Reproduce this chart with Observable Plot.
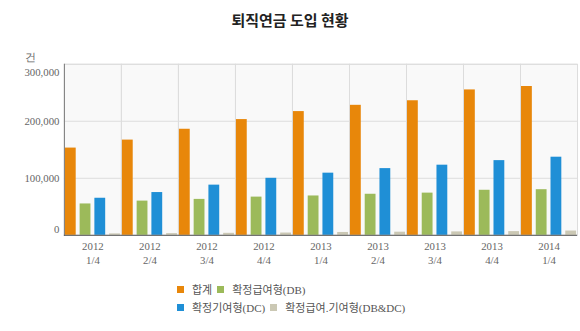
<!DOCTYPE html>
<html>
<head>
<meta charset="utf-8">
<script src="https://cdn.jsdelivr.net/npm/d3@7"></script>
<script src="https://cdn.jsdelivr.net/npm/@observablehq/plot@0.6"></script>
<style>
  html, body { margin: 0; padding: 0; background: #fff; overflow: hidden; width: 580px; height: 331px; }
  #title { width: 580px; height: 50px; box-sizing: border-box; padding-top: 9px; text-align: center;
    font-family: "Noto Sans CJK KR", sans-serif; font-weight: bold; font-size: 15px; color: #222; }
  #legend { margin-left: 177px; margin-top: 10px; font-family: "Liberation Serif", "Noto Sans CJK KR", serif;
    font-size: 11px; color: #555; }
  #legend .row { height: 18px; display: flex; align-items: center; }
  #legend .item { display: flex; align-items: center; margin-right: 5px; }
  #legend .sw { width: 7px; height: 7px; margin-right: 8px; }
  svg { display: block; overflow: visible; }
</style>
</head>
<body>
<div id="title">퇴직연금 도입 현황</div>
<div id="chart"></div>
<div id="legend"></div>
<script>
const categories = ["2012 1/4", "2012 2/4", "2012 3/4", "2012 4/4", "2013 1/4", "2013 2/4", "2013 3/4", "2013 4/4", "2014 1/4"];
const series = ["합계", "확정급여형(DB)", "확정기여형(DC)", "확정급여.기여형(DB&DC)"];
const total = [153000, 167000, 186000, 203000, 217000, 228000, 236000, 255000, 261000];
const db = [55000, 60000, 63000, 67000, 69000, 72000, 74000, 79000, 80000];
const dc = [65000, 75000, 88000, 100000, 109000, 117000, 123000, 131000, 137000];
const mixed = [2500, 3000, 3500, 4000, 5000, 5500, 6000, 6500, 7500];
const yTicks = [0, 100000, 200000, 300000];
const colors = ["#e8870a", "#9cba5a", "#1f8fd6", "#cbc8b4"];

const valuesBySeries = [total, db, dc, mixed];
const data = categories.flatMap((q, i) => series.map((s, j) => ({q, s, v: valuesBySeries[j][i]})));

const fmt = d3.format(",");
const axisFont = {fontFamily: "'Liberation Serif', serif", fontSize: 11, fill: "#666"};

const chart = Plot.plot({
  width: 590,
  height: 224,
  marginTop: 14,
  marginLeft: 62,
  marginRight: 0,
  marginBottom: 36,
  style: {fontFamily: "'Liberation Serif', 'Noto Sans CJK KR', serif", fontSize: "11px", color: "#666", background: "transparent"},
  fx: {domain: categories, padding: 0, label: null, axis: null},
  x: {domain: series, paddingInner: 0.27, paddingOuter: 0.06, axis: null},
  y: {domain: [0, 300000], axis: null},
  color: {domain: series, range: colors},
  marks: [
    Plot.frame({fill: "#f9f9f9", stroke: "#dcdcdc"}),
    Plot.gridY(yTicks, {stroke: "#dcdcdc", strokeOpacity: 1}),
    Plot.barY(data, {fx: "q", x: "s", y: "v", fill: "s"}),
    Plot.frame({anchor: "left", stroke: "#777", facetAnchor: "left"}),
    Plot.ruleY([0], {stroke: "#555"}),
    Plot.axisY([100000, 200000], {tickSize: 0, tickPadding: 5, tickFormat: fmt, label: null, ...axisFont}),
    Plot.axisY([300000], {tickSize: 0, tickPadding: 5, tickFormat: fmt, dy: 8, label: null, ...axisFont}),
    Plot.axisY([0], {tickSize: 0, tickPadding: 5, tickFormat: fmt, dy: -6, label: "건", labelAnchor: "top", labelArrow: "none", labelOffset: 40, ...axisFont}),
    Plot.axisFx({anchor: "bottom", tickSize: 0, tickPadding: 5, lineHeight: 1.3, tickFormat: d => d.replace(" ", "\n"), label: null, ...axisFont})
  ]
});
document.getElementById("chart").appendChild(chart);

const legend = document.getElementById("legend");
[[0, 1], [2, 3]].forEach(idx => {
  const row = document.createElement("div");
  row.className = "row";
  idx.forEach(i => {
    const item = document.createElement("div");
    item.className = "item";
    const sw = document.createElement("span");
    sw.className = "sw";
    sw.style.background = colors[i];
    const t = document.createElement("span");
    t.textContent = series[i];
    item.appendChild(sw);
    item.appendChild(t);
    row.appendChild(item);
  });
  legend.appendChild(row);
});
</script>
</body>
</html>
